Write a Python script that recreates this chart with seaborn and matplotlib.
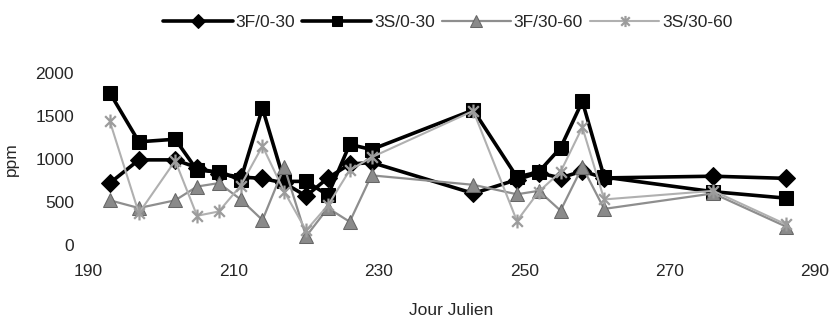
import matplotlib
matplotlib.use("Agg")
import matplotlib.pyplot as plt
from matplotlib.path import Path
import seaborn as sns
import pandas as pd

# Julian day of each sampling date
days = [193, 197, 202, 205, 208, 211, 214, 217, 220, 223,
        226, 229, 243, 249, 252, 255, 258, 261, 276, 286]

# Concentration (ppm) per treatment / depth
f_0_30 = [720, 990, 990, 900, 830, 790, 775, 720, 570, 780,
          940, 960, 600, 760, 840, 780, 860, 780, 800, 775]
s_0_30 = [1770, 1200, 1230, 870, 850, 760, 1590, 740, 740, 580,
          1170, 1110, 1570, 790, 850, 1130, 1670, 790, 620, 545]
f_30_60 = [520, 430, 520, 680, 720, 530, 290, 910, 100, 430,
           270, 810, 700, 590, 630, 400, 910, 420, 600, 215]
s_30_60 = [1440, 370, 980, 340, 390, 690, 1150, 620, 170, 460,
           870, 1020, 1560, 280, 620, 850, 1370, 530, 630, 240]

labels = ["3F/0-30", "3S/0-30", "3F/30-60", "3S/30-60"]
x_ticks = [190, 210, 230, 250, 270, 290]
y_ticks = [0, 500, 1000, 1500, 2000]

sns.set_theme(style="white")
plt.rcParams["font.family"] = ["Liberation Sans", "DejaVu Sans"]

# asterisk marker: an X crossed by a vertical bar
asterisk = Path([(-1, -1), (1, 1), (-1, 1), (1, -1), (0, -1.3), (0, 1.3)],
                [Path.MOVETO, Path.LINETO, Path.MOVETO, Path.LINETO,
                 Path.MOVETO, Path.LINETO])

styles = [
    dict(color="black", marker="D", markersize=9, linewidth=2.6,
         markerfacecolor="black", markeredgecolor="black"),
    dict(color="black", marker="s", markersize=9.5, linewidth=2.6,
         markerfacecolor="black", markeredgecolor="black"),
    dict(color="#8e8e8e", marker="^", markersize=10, linewidth=1.6,
         markerfacecolor="#8a8a8a", markeredgecolor="#666666"),
    dict(color="#b0b0b0", marker=asterisk, markersize=10, linewidth=1.5,
         markeredgewidth=1.6, markerfacecolor="none", markeredgecolor="#9c9c9c"),
]

fig = plt.figure(figsize=(8.34, 3.28), dpi=100)
ax = fig.add_axes([0.1055, 0.253, 0.8717, 0.5244])

for vals, lab, st in zip([f_0_30, s_0_30, f_30_60, s_30_60], labels, styles):
    df = pd.DataFrame({"day": days, "ppm": vals})
    sns.lineplot(data=df, x="day", y="ppm", ax=ax, label=lab,
                 estimator=None, sort=False, **st)

ax.set_xlim(190, 290)
ax.set_ylim(0, 2000)
ax.set_xticks(x_ticks)
ax.set_yticks(y_ticks)
ax.tick_params(axis="x", labelsize=12.5, pad=14, length=0)
ax.tick_params(axis="y", labelsize=12.5, pad=10, length=0)
for sp in ax.spines.values():
    sp.set_visible(False)
ax.grid(False)
ax.set_xlabel("Jour Julien", fontsize=12.5, labelpad=17)
ax.set_ylabel("ppm", fontsize=12.5, labelpad=12)

leg = ax.legend(loc="upper center", bbox_to_anchor=(0.537, 0.98),
                bbox_transform=fig.transFigure, ncol=4, frameon=False,
                fontsize=12.5, handlelength=4.0, handletextpad=0.15,
                columnspacing=0.4, borderaxespad=0.1, markerscale=0.8)

fig.savefig("out.png", dpi=100)
